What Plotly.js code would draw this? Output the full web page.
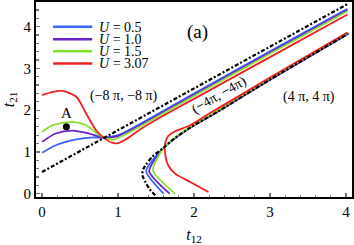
<!DOCTYPE html>
<html>
<head>
<meta charset="utf-8">
<script src="https://cdn.plot.ly/plotly-3.0.1.min.js"></script>
<style>html,body{margin:0;padding:0;background:#fff;}#chart{width:354px;height:245px;}</style>
</head>
<body>
<div id="chart"></div>
<script>
// U = 0 boundaries (black dash-dot)
const boundaryUpperX = [0, 4.02];
const boundaryUpperY = [0.52, 4.54];
const boundaryLowerX = [1.49, 1.42, 1.36, 1.32, 1.33, 1.37, 1.46, 1.60, 1.75, 1.95, 2.3, 3.0, 4.02];
const boundaryLowerY = [-0.04, 0.10, 0.28, 0.45, 0.58, 0.70, 0.90, 1.10, 1.33, 1.58, 1.95, 2.73, 3.82];

const uLabels = ['0.5', '1.0', '1.5', '3.07'];
const uColors = ['#3a63ff', '#6a22cc', '#82e32f', '#f02020'];

// upper-left branch for each U
const upperX = [
  [0, 0.18, 0.45, 0.67, 0.82, 1.0, 1.3, 2.0, 3.0, 4.02],
  [0, 0.18, 0.40, 0.62, 0.82, 1.0, 1.3, 2.0, 3.0, 4.02],
  [0, 0.14, 0.40, 0.58, 0.71, 0.82, 0.95, 1.2, 2.0, 3.0, 4.02],
  [0, 0.14, 0.27, 0.45, 0.58, 0.71, 0.82, 0.92, 1.0, 1.1, 1.3, 1.6, 2.0, 3.0, 4.02]
];
const upperY = [
  [0.98, 1.16, 1.30, 1.35, 1.34, 1.40, 1.68, 2.40, 3.41, 4.43],
  [1.24, 1.44, 1.51, 1.44, 1.34, 1.38, 1.65, 2.37, 3.38, 4.40],
  [1.48, 1.64, 1.72, 1.64, 1.46, 1.34, 1.30, 1.52, 2.34, 3.35, 4.37],
  [2.36, 2.44, 2.46, 2.32, 1.92, 1.52, 1.33, 1.22, 1.21, 1.30, 1.55, 1.87, 2.27, 3.27, 4.29]
];
// lower-right branch for each U
const lowerX = [
  [1.60, 1.37, 1.60, 1.75, 1.95, 2.3, 3.0, 4.04],
  [1.68, 1.41, 1.60, 1.75, 1.95, 2.3, 3.0, 4.03],
  [1.75, 1.46, 1.60, 1.76, 1.96, 2.3, 3.0, 4.02],
  [2.19, 1.95, 1.75, 1.66, 1.62, 1.62, 1.66, 1.76, 1.95, 2.2, 2.5, 3.0, 4.02]
];
const lowerY = [
  [0.0, 0.54, 1.10, 1.33, 1.58, 1.95, 2.73, 3.84],
  [0.0, 0.54, 1.10, 1.33, 1.58, 1.95, 2.73, 3.83],
  [0.0, 0.56, 1.10, 1.36, 1.61, 1.98, 2.76, 3.85],
  [0.04, 0.28, 0.48, 0.68, 0.96, 1.20, 1.38, 1.50, 1.64, 1.92, 2.24, 2.78, 3.86]
];

const pointA = {x: [0.32], y: [1.60]};

const traces = [];
for (let i = 0; i < uLabels.length; i++) {
  traces.push({x: upperX[i], y: upperY[i], mode: 'lines', line: {color: uColors[i], width: 1.8, shape: 'spline', smoothing: 0.8}, showlegend: false, hoverinfo: 'skip'});
  traces.push({x: lowerX[i], y: lowerY[i], mode: 'lines', line: {color: uColors[i], width: 1.8, shape: 'spline', smoothing: 0.6}, showlegend: false, hoverinfo: 'skip'});
}
traces.push({x: boundaryUpperX, y: boundaryUpperY, mode: 'lines', line: {color: '#000', width: 2.2, dash: '4px,2px,2px,2px'}, showlegend: false});
traces.push({x: boundaryLowerX, y: boundaryLowerY, mode: 'lines', line: {color: '#000', width: 2.2, dash: '4px,2px,2px,2px', shape: 'spline', smoothing: 0.8}, showlegend: false});
traces.push({x: pointA.x, y: pointA.y, mode: 'markers', marker: {color: '#000', size: 7}, showlegend: false});

const serif = 'Liberation Serif, Times New Roman, serif';
const shapes = [];
const annotations = [];
const legY = [4.0, 3.7, 3.41, 3.12];
for (let i = 0; i < uLabels.length; i++) {
  shapes.push({type: 'line', xref: 'x', yref: 'y', x0: 0.145, x1: 0.66, y0: legY[i], y1: legY[i], line: {color: uColors[i], width: 2.5}});
  annotations.push({x: 0.73, y: legY[i], xref: 'x', yref: 'y', text: '<i>U</i> = ' + uLabels[i], showarrow: false, xanchor: 'left', yanchor: 'middle', height: 12, valign: 'middle', borderpad: 0, font: {family: serif, size: 14, color: '#000'}});
}
annotations.push({x: 2.04, y: 3.87, xref: 'x', yref: 'y', text: '(a)', showarrow: false, font: {family: serif, size: 19, color: '#000'}});
annotations.push({x: 1.08, y: 2.34, xref: 'x', yref: 'y', text: '(\u22128 \u03C0, \u22128 \u03C0)', showarrow: false, font: {family: serif, size: 14, color: '#000'}});
annotations.push({x: 2.34, y: 2.36, xref: 'x', yref: 'y', text: '(\u22124\u03C0, \u22124\u03C0)', showarrow: false, textangle: -30, font: {family: serif, size: 14, color: '#000'}});
annotations.push({x: 3.51, y: 2.31, xref: 'x', yref: 'y', text: '(4 \u03C0, 4 \u03C0)', showarrow: false, font: {family: serif, size: 14, color: '#000'}});
annotations.push({x: 0.32, y: 1.93, xref: 'x', yref: 'y', text: 'A', showarrow: false, font: {family: serif, size: 15, color: '#000'}});

const axisCommon = {
  showgrid: false, zeroline: false, showline: true, mirror: true, linecolor: '#000', linewidth: 2,
  ticks: 'inside', ticklen: 4, tickcolor: '#777', tickwidth: 1.2, dtick: 1,
  tickfont: {family: serif, size: 15, color: '#000'},
  minor: {ticks: 'inside', ticklen: 2.5, tickcolor: '#777', dtick: 0.2, showgrid: false}
};

const layout = {
  width: 354, height: 245,
  margin: {l: 36, r: 2, t: 2, b: 48},
  paper_bgcolor: '#fff', plot_bgcolor: '#fff',
  showlegend: false,
  xaxis: Object.assign({}, axisCommon, {range: [-0.08, 4.08], tick0: 0,
    title: {text: '<i>t</i><sub>12</sub>', font: {family: serif, size: 16, color: '#000'}, standoff: 11}}),
  yaxis: Object.assign({}, axisCommon, {range: [-0.08, 4.59], tick0: 0,
    title: {text: '<i>t</i><sub>21</sub>', font: {family: serif, size: 16, color: '#000'}, standoff: 7}}),
  shapes: shapes,
  annotations: annotations
};

Plotly.newPlot('chart', traces, layout, {displayModeBar: false, staticPlot: true});
</script>
</body>
</html>
